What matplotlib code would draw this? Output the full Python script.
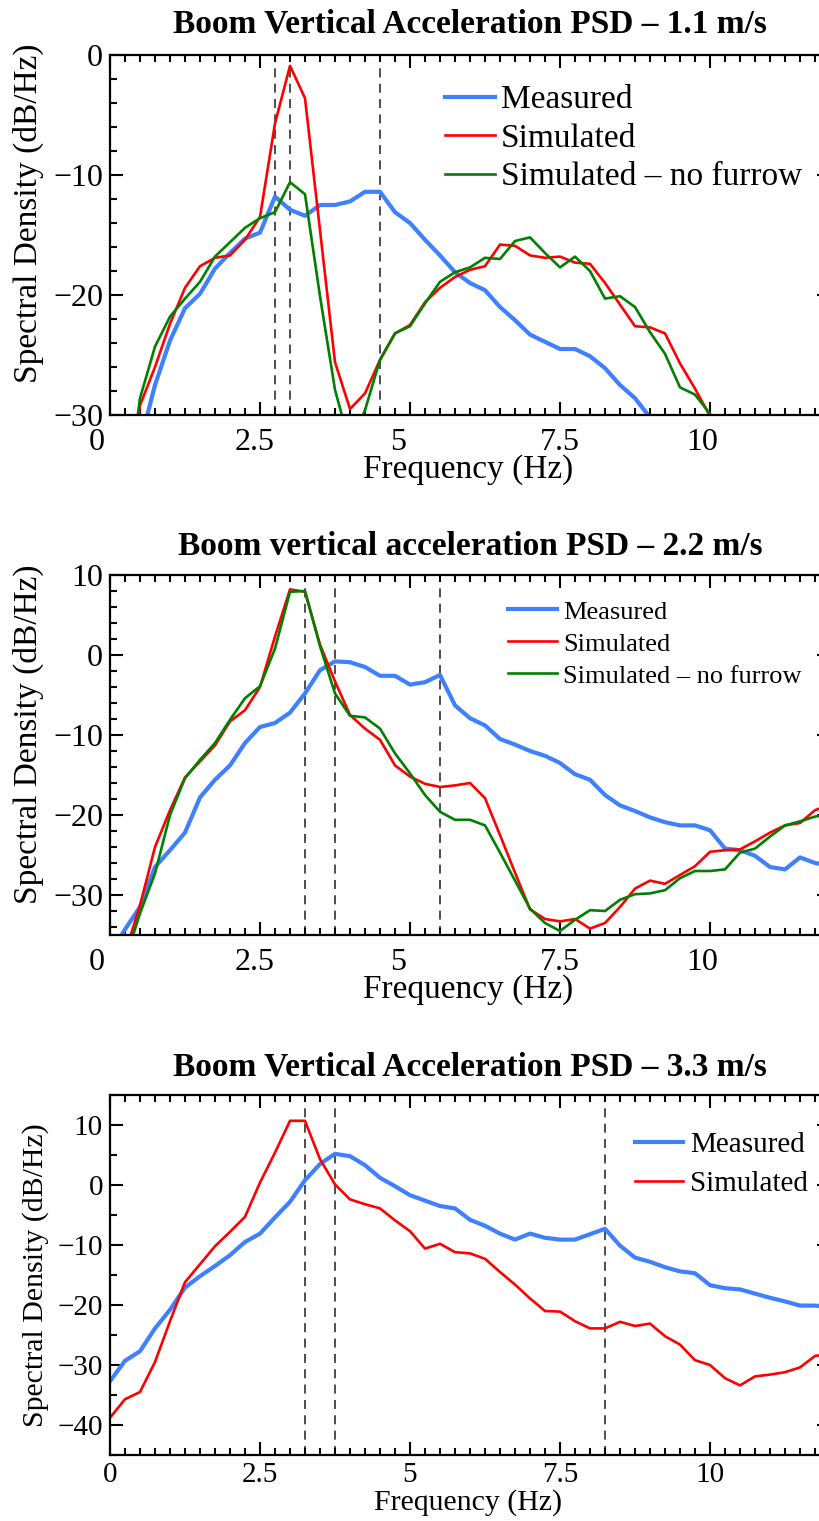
import numpy as np
import matplotlib
matplotlib.use('Agg')
import matplotlib.pyplot as plt
from matplotlib.ticker import MultipleLocator, FormatStrFormatter
from matplotlib.transforms import ScaledTranslation

plt.rcParams['font.family'] = ['Liberation Serif', 'DejaVu Serif']

nan = np.nan

# frequency bins (Hz)
freq = [0.0, 0.25, 0.5, 0.75, 1.0, 1.25, 1.5, 1.75, 2.0, 2.25,
        2.5, 2.75, 3.0, 3.25, 3.5, 3.75, 4.0, 4.25, 4.5, 4.75,
        5.0, 5.25, 5.5, 5.75, 6.0, 6.25, 6.5, 6.75, 7.0, 7.25,
        7.5, 7.75, 8.0, 8.25, 8.5, 8.75, 9.0, 9.25, 9.5, 9.75,
        10.0, 10.25, 10.5, 10.75, 11.0, 11.25, 11.5, 11.75, 12.0]

# 1.1 m/s
meas_11 = [nan, nan, -32.4, -27.5, -23.8, -21.1, -19.9, -17.8, -16.5, -15.3,
           -14.8, -11.8, -12.9, -13.4, -12.5, -12.5, -12.2, -11.4, -11.4, -13.1,
           -14.0, -15.4, -16.7, -18.1, -19.0, -19.6, -21.0, -22.1, -23.3, -23.9,
           -24.5, -24.5, -25.1, -26.1, -27.5, -28.6, -30.2, nan, nan, nan,
           nan, nan, nan, nan, nan, nan, nan, nan, nan]
sim_11 = [nan, -37.0, -29.2, -26.0, -22.4, -19.4, -17.6, -16.9, -16.7, -15.4,
          -13.5, -5.7, -0.9, -3.6, -14.6, -25.6, -29.5, -28.2, -25.4, -23.2,
          -22.5, -20.6, -19.4, -18.5, -17.9, -17.6, -15.8, -15.9, -16.7, -16.9,
          -16.8, -17.3, -17.4, -19.0, -20.8, -22.6, -22.7, -23.2, -25.7, -27.8,
          -30.1, -33.0, nan, nan, nan, nan, nan, nan, nan]
nofur_11 = [nan, -38.0, -28.6, -24.3, -21.8, -20.3, -18.9, -16.8, -15.6, -14.4,
            -13.6, -13.1, -10.6, -11.6, -20.1, -27.9, -32.5, -29.6, -25.4, -23.2,
            -22.6, -20.7, -18.9, -18.1, -17.7, -16.9, -17.0, -15.5, -15.2, -16.5,
            -17.7, -16.8, -18.0, -20.3, -20.1, -21.0, -23.1, -24.9, -27.7, -28.3,
            -29.9, -33.0, nan, nan, nan, nan, nan, nan, nan]
marks_11 = [2.75, 3.0, 4.5]

# 2.2 m/s
meas_22 = [-37.5, -34.3, -31.5, -26.5, -24.4, -22.2, -17.8, -15.6, -13.8, -11.0,
           -9.0, -8.5, -7.2, -4.8, -1.9, -0.8, -0.9, -1.5, -2.6, -2.6,
           -3.7, -3.4, -2.5, -6.3, -7.9, -8.8, -10.5, -11.2, -12.0, -12.6,
           -13.5, -14.9, -15.6, -17.5, -18.8, -19.5, -20.3, -20.9, -21.3, -21.3,
           -21.9, -24.2, -24.4, -25.1, -26.5, -26.8, -25.3, -26.0, -26.3]
sim_22 = [nan, -37.3, -31.3, -24.0, -19.4, -15.3, -13.3, -11.3, -8.3, -6.9,
          -4.0, 2.3, 8.2, 7.9, 1.3, -3.3, -7.5, -9.2, -10.6, -13.8,
          -15.2, -16.1, -16.5, -16.3, -16.0, -17.9, -22.5, -27.2, -31.8, -33.0,
          -33.3, -33.0, -34.2, -33.5, -31.5, -29.2, -28.2, -28.6, -27.5, -26.4,
          -24.6, -24.4, -24.3, -23.3, -22.2, -21.3, -21.0, -19.4, -18.7]
nofur_22 = [nan, -38.2, -32.3, -27.3, -20.0, -15.4, -13.1, -11.0, -8.1, -5.4,
            -3.9, 0.8, 7.9, 8.0, 1.1, -4.8, -7.6, -7.8, -9.2, -12.3,
            -14.8, -17.5, -19.6, -20.6, -20.6, -21.3, -24.7, -28.2, -31.7, -33.5,
            -34.5, -33.1, -31.9, -32.0, -30.6, -29.9, -29.8, -29.4, -27.9, -27.0,
            -27.0, -26.8, -24.7, -24.2, -22.7, -21.3, -20.8, -20.2, -19.9]
marks_22 = [3.25, 3.75, 5.5]

# 3.3 m/s
meas_33 = [-32.7, -29.3, -27.7, -23.9, -20.8, -17.1, -15.2, -13.5, -11.7, -9.5,
           -8.1, -5.4, -2.8, 0.8, 3.5, 5.2, 4.8, 3.3, 1.2, -0.2,
           -1.7, -2.6, -3.5, -3.9, -5.8, -6.8, -8.1, -9.1, -8.1, -8.8,
           -9.1, -9.1, -8.2, -7.3, -10.1, -12.1, -12.8, -13.7, -14.4, -14.7,
           -16.7, -17.2, -17.4, -18.1, -18.8, -19.4, -20.1, -20.1, -20.4]
sim_33 = [-38.8, -35.7, -34.5, -29.5, -22.7, -16.2, -13.2, -10.2, -7.8, -5.3,
          0.4, 5.4, 10.7, 10.7, 4.3, 0.1, -2.4, -3.2, -3.9, -5.9,
          -7.7, -10.6, -9.8, -11.2, -11.4, -12.3, -14.5, -16.6, -18.9, -21.0,
          -21.1, -22.7, -23.9, -23.9, -22.8, -23.5, -23.1, -25.2, -26.6, -29.2,
          -30.0, -32.2, -33.4, -31.9, -31.6, -31.2, -30.4, -28.5, -28.1]
marks_33 = [3.25, 3.75, 8.25]

BLUE = '#3f80ff'
RED = '#ff0000'
GREEN = '#008000'
W, H = 820, 1521

# pixel nudges of x tick labels in the top two panels (label value -> dx)
label_nudge = {0.0: -13, 2.5: -5, 5.0: -12, 7.5: 0, 10.0: -8}


def px_axes(fig, top, left=110, width=720, height=360):
    """Adds an axes placed by pixel coordinates (top edge measured from the top)."""
    return fig.add_axes([left / W, (H - top - height) / H, width / W, height / H])


def draw_panel(ax, series, marks, title, ylim, yminor, fs_tick, fs_label,
               xpad, xlabel_y, ylabel_xy, title_pad, legend, xshift=None):
    """Draws one PSD panel in the IDL-like style of the reference."""
    for f in marks:
        ax.axvline(f, color='#404040', lw=1.3, ls=(0, (5, 3.5)), zorder=1)
    for name, values, color, lw in series:
        ax.plot(freq, values, color=color, lw=lw, label=name, zorder=2)

    ax.set_xlim(0, 12)
    ax.set_ylim(*ylim)
    ax.xaxis.set_major_locator(MultipleLocator(2.5))
    ax.xaxis.set_minor_locator(MultipleLocator(0.25))
    ax.xaxis.set_major_formatter(FormatStrFormatter('%g'))
    ax.yaxis.set_major_locator(MultipleLocator(10))
    ax.yaxis.set_minor_locator(MultipleLocator(yminor))
    ax.tick_params(which='both', direction='in', top=True, right=True, width=1.5)
    ax.tick_params(which='major', length=9.5)
    ax.tick_params(which='minor', length=5)
    ax.tick_params(axis='x', labelsize=fs_tick, pad=xpad)
    ax.tick_params(axis='y', labelsize=fs_tick, pad=5)
    for s in ax.spines.values():
        s.set_linewidth(1.6)

    # the original tick labels sit slightly left of some ticks
    if xshift:
        locs = ax.xaxis.get_majorticklocs()
        ticks = ax.xaxis.get_major_ticks(len(locs))
        for tick, loc in zip(ticks, locs):
            dx = xshift.get(round(float(loc), 2), 0)
            lab = tick.label1
            lab.set_transform(lab.get_transform() +
                              ScaledTranslation(dx / 100, 0, ax.figure.dpi_scale_trans))

    ax.set_title(title, fontsize=24, fontweight='bold', pad=title_pad)
    ax.set_xlabel('Frequency (Hz)', fontsize=fs_label, va='center')
    ax.xaxis.set_label_coords(0.498, xlabel_y)
    ax.set_ylabel('Spectral Density (dB/Hz)', fontsize=fs_label, va='center')
    ax.yaxis.set_label_coords(*ylabel_xy)

    ax.legend(loc='upper left', frameon=False, borderaxespad=0, borderpad=0,
              **legend)


fig = plt.figure(figsize=(W / 100, H / 100), dpi=100)

ax1 = px_axes(fig, 55)
draw_panel(ax1,
           [('Measured', meas_11, BLUE, 3.0),
            ('Simulated', sim_11, RED, 1.9),
            ('Simulated – no furrow', nofur_11, GREEN, 1.9)],
           marks_11, 'Boom Vertical Acceleration PSD – 1.1 m/s',
           (-30, 0), 2, 23, 24, 9, -0.153, (-0.114, 0.56), 16.5,
           dict(bbox_to_anchor=(0.465, 0.917), fontsize=24, handlelength=1.5,
                handletextpad=0.18, labelspacing=0.24),
           xshift=label_nudge)

ax2 = px_axes(fig, 575)
draw_panel(ax2,
           [('Measured', meas_22, BLUE, 3.0),
            ('Simulated', sim_22, RED, 1.9),
            ('Simulated – no furrow', nofur_22, GREEN, 1.9)],
           marks_22, 'Boom vertical acceleration PSD – 2.2 m/s',
           (-35, 10), 2, 23, 24, 9, -0.153, (-0.114, 0.558), 14.4,
           dict(bbox_to_anchor=(0.553, 0.930), fontsize=19, handlelength=1.86,
                handletextpad=0.23, labelspacing=0.32),
           xshift=label_nudge)

ax3 = px_axes(fig, 1095)
draw_panel(ax3,
           [('Measured', meas_33, BLUE, 3.0),
            ('Simulated', sim_33, RED, 1.9)],
           marks_33, 'Boom Vertical Acceleration PSD – 3.3 m/s',
           (-45, 15), 5, 21, 21.5, 5, -0.133, (-0.104, 0.5), 14.4,
           dict(bbox_to_anchor=(0.729, 0.897), fontsize=21, handlelength=1.64,
                handletextpad=0.24, labelspacing=0.42))

fig.savefig('out.png', dpi=100)
